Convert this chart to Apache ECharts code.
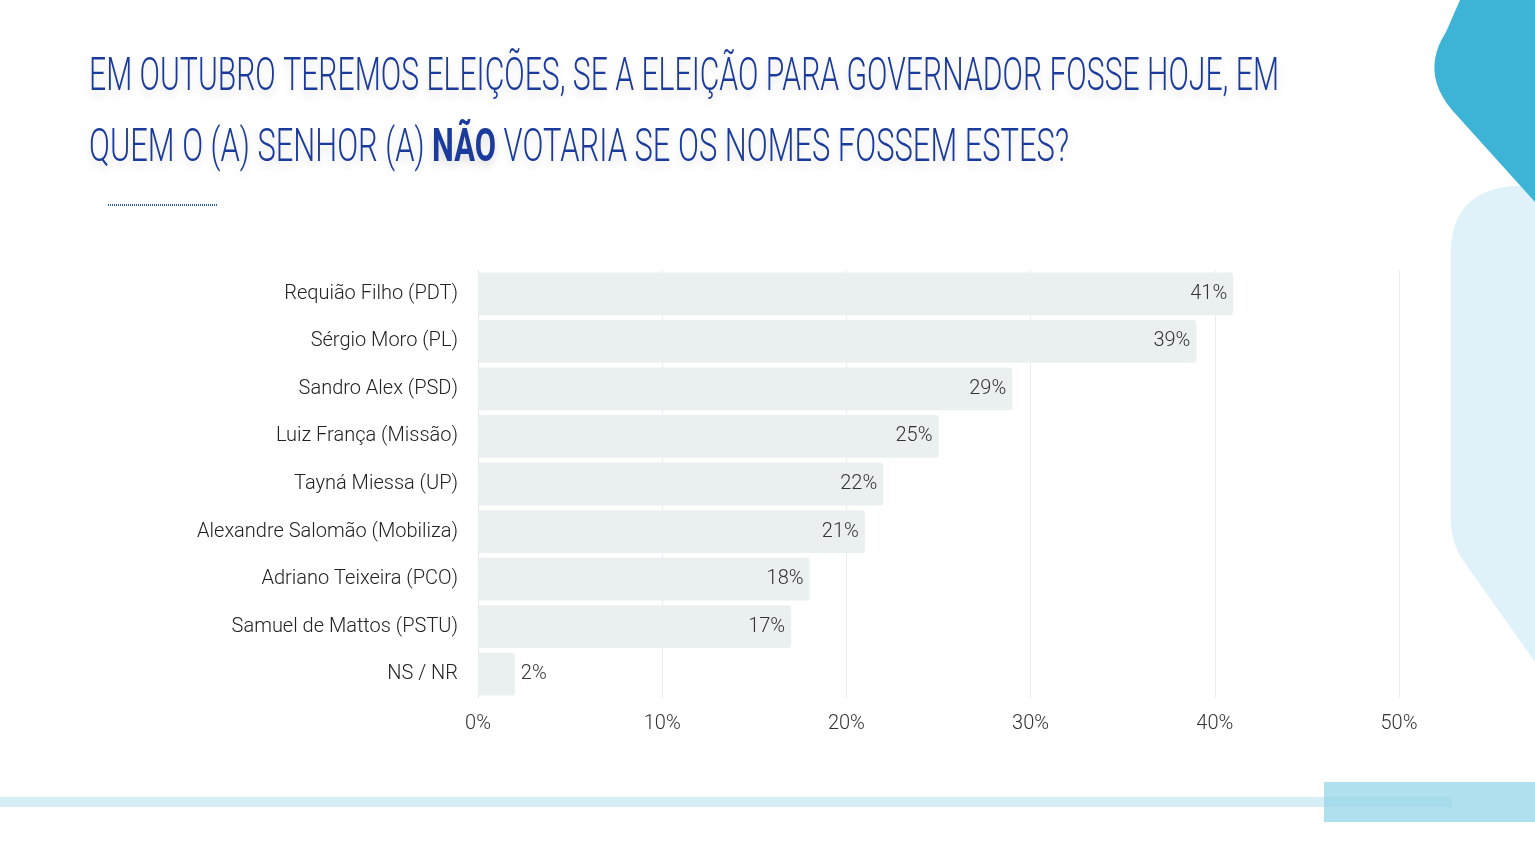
<!DOCTYPE html>
<html>
<head>
    <meta charset="utf-8">
    <title>ECharts</title>
    <script src="https://cdn.jsdelivr.net/npm/echarts@6/dist/echarts.min.js"></script>
    <style>
      html, body { margin: 0; padding: 0; background: #fff; }
    </style>
</head>
<body>
    <div id="main" style="width: 1535px;height:844px;"></div>
    <script type="text/javascript">
        // dados (de cima para baixo)
        var candidatos = [
          'Requião Filho (PDT)',
          'Sérgio Moro (PL)',
          'Sandro Alex (PSD)',
          'Luiz França (Missão)',
          'Tayná Miessa (UP)',
          'Alexandre Salomão (Mobiliza)',
          'Adriano Teixeira (PCO)',
          'Samuel de Mattos (PSTU)',
          'NS / NR'
        ];
        var rejeicao = [41, 39, 29, 25, 22, 21, 18, 17, 2];
        var eixoTicks = [0, 10, 20, 30, 40, 50];

        var titulo1 = 'EM OUTUBRO TEREMOS ELEIÇÕES, SE A ELEIÇÃO PARA GOVERNADOR FOSSE HOJE, EM';
        var titulo2a = 'QUEM O (A) SENHOR (A) ';
        var titulo2b = 'NÃO';
        var titulo2c = ' VOTARIA SE OS NOMES FOSSEM ESTES?';

        var fonte = "Roboto, 'Noto Sans', sans-serif";
        var azul = '#1a3a9c';

        // mede a largura do titulo para comprimir como fonte condensada
        var cv = document.createElement('canvas').getContext('2d');
        cv.font = '300 46px Roboto';
        var larg1 = cv.measureText(titulo1).width;
        var larg2 = cv.measureText(titulo2a + titulo2c).width;
        cv.font = 'bold 46px Roboto';
        larg2 += cv.measureText(titulo2b).width;
        var escala1 = 1190 / larg1;
        var escala2 = 980 / larg2;

        var myChart = echarts.init(document.getElementById('main'));

        var cats = candidatos.slice().reverse();
        var vals = rejeicao.slice().reverse().map(function(v) {
          return {
            value: v,
            label: { position: v < 5 ? 'right' : 'insideRight' }
          };
        });

        // curva quadratica em pontos (cantos arredondados das formas)
        function curva(p0, c, p1) {
          var pts = [];
          for (var i = 0; i <= 12; i++) {
            var t = i / 12, u = 1 - t;
            pts.push([u*u*p0[0] + 2*u*t*c[0] + t*t*p1[0], u*u*p0[1] + 2*u*t*c[1] + t*t*p1[1]]);
          }
          return pts;
        }

        var formaEscura = [[1460, 0], [1535, 0], [1535, 202], [1452, 110]]
          .concat(curva([1452, 110], [1420, 72], [1446, 32]))
          .concat([[1460, 0]]);
        var formaClara = [[1535, 186], [1512, 186]]
          .concat(curva([1512, 186], [1452, 192], [1451, 250]))
          .concat(curva([1451, 520], [1451, 545], [1465, 563]))
          .concat([[1535, 662]]);

        var sombra = {
          textShadowColor: 'rgba(0,0,0,0.14)',
          textShadowBlur: 8,
          textShadowOffsetY: 5
        };

        var option = {
            backgroundColor: '#ffffff',
            grid: {
                left: 478,
                right: 136,
                top: 270,
                bottom: 146,
                containLabel: false
            },
            xAxis: {
                type: 'value',
                min: 0,
                max: 50,
                interval: 10,
                axisLine: { show: false },
                axisTick: { show: false },
                splitLine: { lineStyle: { color: '#ececec', width: 1 } },
                axisLabel: {
                    margin: 16,
                    fontFamily: fonte,
                    fontWeight: 300,
                    fontSize: 20,
                    color: '#333',
                    formatter: function(v) { return eixoTicks.indexOf(v) >= 0 ? v + '%' : ''; }
                }
            },
            yAxis: {
                type: 'category',
                data: cats,
                axisLine: { show: true, lineStyle: { color: '#e6e6e6' } },
                axisTick: { show: false },
                axisLabel: {
                    margin: 20,
                    fontFamily: fonte,
                    fontWeight: 300,
                    fontSize: 20,
                    color: '#222'
                }
            },
            series: [{
                type: 'bar',
                data: vals,
                barCategoryGap: '10%',
                itemStyle: { color: '#eaf0f0', borderRadius: 3 },
                label: {
                    show: true,
                    formatter: '{c}%',
                    fontFamily: fonte,
                    fontWeight: 300,
                    fontSize: 20,
                    color: '#333',
                    distance: 6
                },
                silent: true
            }],
            graphic: [
                {
                    type: 'polygon', z: -10, silent: true,
                    shape: { points: formaEscura },
                    style: { fill: '#3db4d6' }
                },
                {
                    type: 'polygon', z: -11, silent: true,
                    shape: { points: formaClara },
                    style: { fill: '#e0f2f9' }
                },
                {
                    type: 'line', z: 5, silent: true,
                    shape: { x1: 108, y1: 205, x2: 218, y2: 205 },
                    style: { stroke: '#2d5fb8', lineWidth: 2, lineDash: [1, 1] }
                },
                {
                    type: 'rect', z: -10, silent: true,
                    shape: { x: 0, y: 797, width: 1452, height: 10 },
                    style: { fill: '#d6eff6' }
                },
                {
                    type: 'rect', z: -9, silent: true,
                    shape: { x: 1324, y: 782, width: 211, height: 40 },
                    style: { fill: 'rgba(150,212,232,0.75)' }
                },
                // titulo (texto comprimido horizontalmente)
                {
                    type: 'text', z: 10, silent: true,
                    x: 89, y: 101, scaleX: escala1,
                    style: Object.assign({
                        text: titulo1,
                        font: '300 46px Roboto',
                        fill: azul,
                        verticalAlign: 'bottom'
                    }, sombra)
                },
                {
                    type: 'text', z: 10, silent: true,
                    x: 89, y: 172, scaleX: escala2,
                    style: Object.assign({
                        text: titulo2a + '{b|' + titulo2b + '}' + titulo2c,
                        font: '300 46px Roboto',
                        fill: azul,
                        verticalAlign: 'bottom',
                        rich: {
                            b: Object.assign({
                                fontFamily: 'Roboto',
                                fontSize: 46,
                                fontWeight: 'bold',
                                fill: azul,
                                color: azul
                            }, sombra)
                        }
                    }, sombra)
                }
            ]
        };

        myChart.setOption(option);
    </script>
</body>
</html>
